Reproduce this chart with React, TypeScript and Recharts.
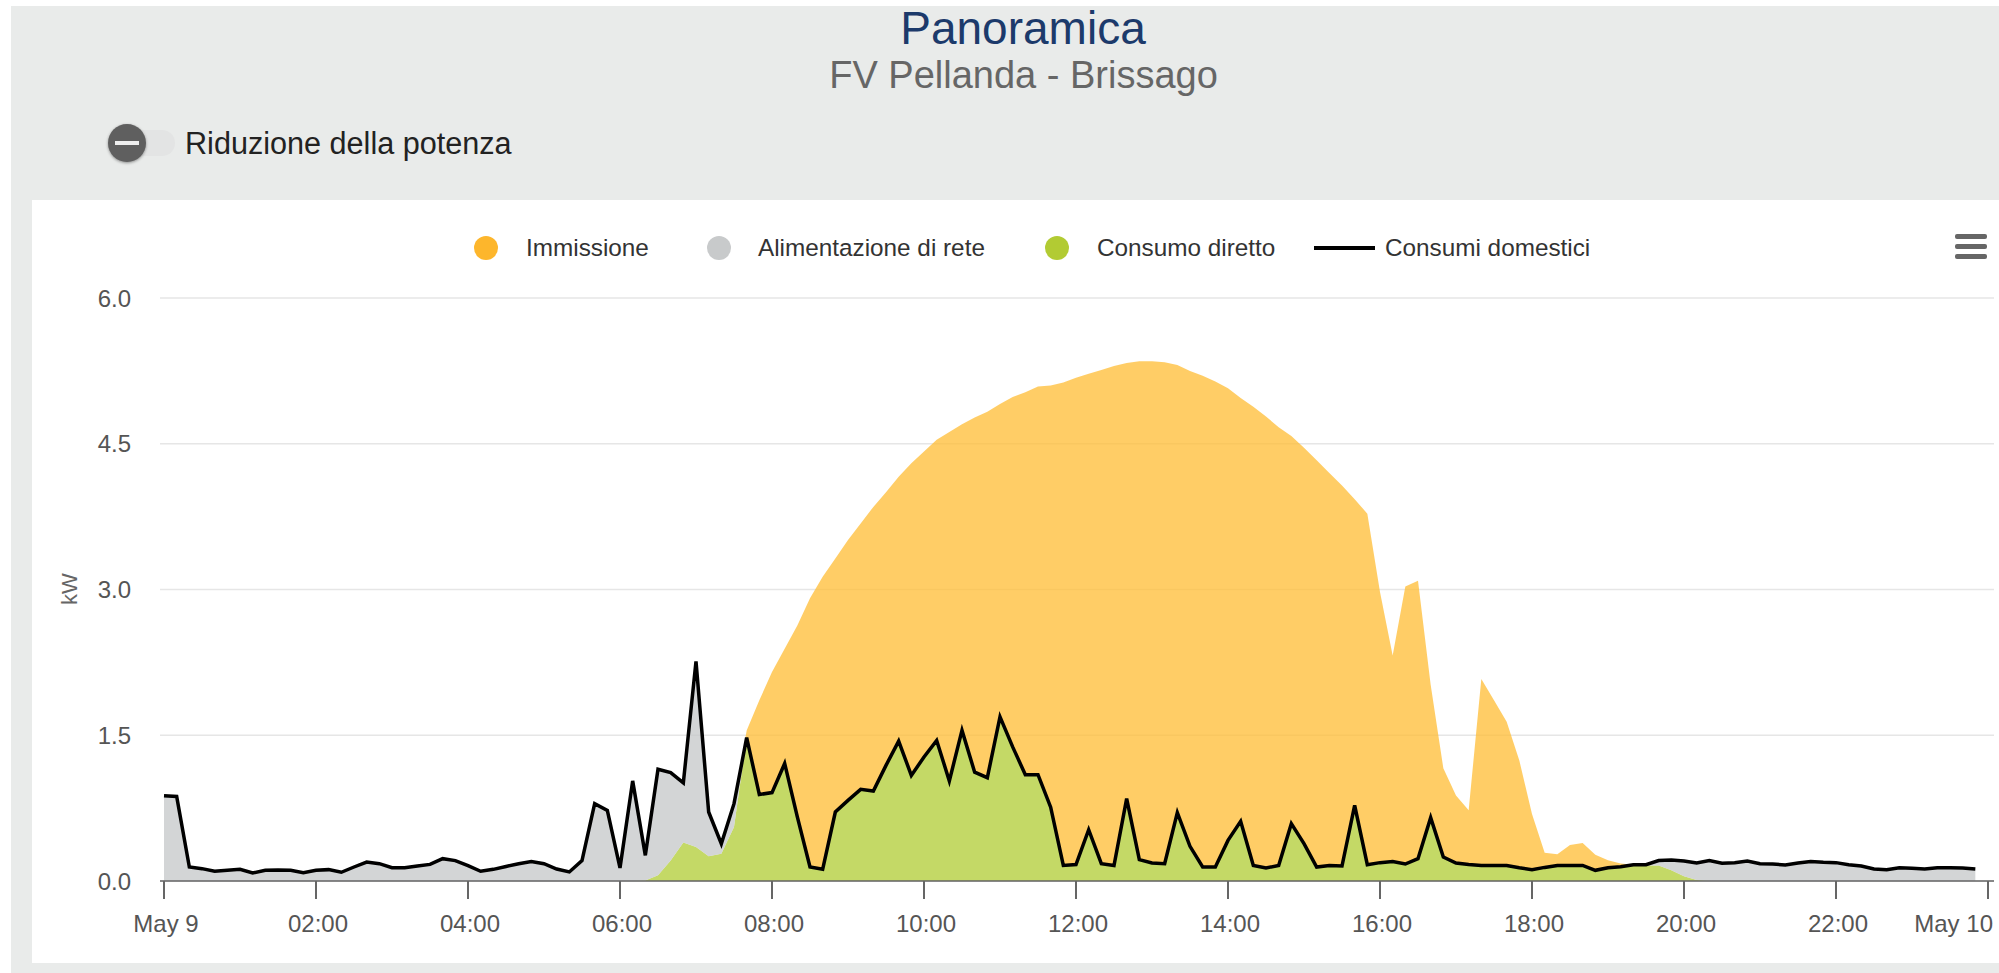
import { Area, CartesianGrid, ComposedChart, Line, XAxis, YAxis } from 'recharts';

const tickMinutes = [0, 120, 240, 360, 480, 600, 720, 840, 960, 1080, 1200, 1320, 1440];
const tickLabels = ['May 9', '02:00', '04:00', '06:00', '08:00', '10:00', '12:00', '14:00', '16:00', '18:00', '20:00', '22:00', 'May 10'];
const yTicks = [0, 1.5, 3, 4.5, 6];

// one value every 10 minutes, from 00:00 to 23:50
const consumiDomestici = [
  0.878, 0.87, 0.144, 0.127, 0.1, 0.11, 0.12, 0.082, 0.11, 0.113, 0.11, 0.086,
  0.11, 0.117, 0.09, 0.144, 0.195, 0.178, 0.137, 0.137, 0.154, 0.171, 0.23, 0.21,
  0.158, 0.1, 0.12, 0.15, 0.178, 0.2, 0.178, 0.123, 0.093, 0.21, 0.796, 0.727,
  0.134, 1.03, 0.264, 1.15, 1.115, 1.01, 2.26, 0.71, 0.384, 0.796, 1.475, 0.89,
  0.91, 1.21, 0.66, 0.144, 0.12, 0.71, 0.83, 0.943, 0.926, 1.19, 1.44, 1.087,
  1.276, 1.447, 1.03, 1.55, 1.12, 1.063, 1.69, 1.38, 1.094, 1.094, 0.76, 0.16,
  0.17, 0.528, 0.178, 0.16, 0.847, 0.22, 0.185, 0.178, 0.703, 0.357, 0.144, 0.144,
  0.418, 0.614, 0.16, 0.134, 0.16, 0.59, 0.384, 0.144, 0.16, 0.154, 0.779, 0.168,
  0.189, 0.2, 0.175, 0.23, 0.652, 0.247, 0.185, 0.171, 0.16, 0.16, 0.16, 0.137,
  0.117, 0.14, 0.16, 0.16, 0.16, 0.11, 0.137, 0.147, 0.168, 0.168, 0.21, 0.216,
  0.206, 0.185, 0.21, 0.182, 0.189, 0.206, 0.178, 0.175, 0.165, 0.185, 0.2, 0.192,
  0.189, 0.168, 0.154, 0.123, 0.117, 0.137, 0.13, 0.123, 0.137, 0.137, 0.134, 0.123,
];

const consumoDiretto = [
  0, 0, 0, 0, 0, 0, 0, 0, 0, 0, 0, 0,
  0, 0, 0, 0, 0, 0, 0, 0, 0, 0, 0, 0,
  0, 0, 0, 0, 0, 0, 0, 0, 0, 0, 0, 0,
  0, 0, 0.005, 0.06, 0.21, 0.395, 0.35, 0.254, 0.28, 0.556, 1.475, 0.89,
  0.91, 1.21, 0.66, 0.144, 0.12, 0.71, 0.83, 0.943, 0.926, 1.19, 1.44, 1.087,
  1.276, 1.447, 1.03, 1.55, 1.12, 1.063, 1.69, 1.38, 1.094, 1.094, 0.76, 0.16,
  0.17, 0.528, 0.178, 0.16, 0.847, 0.22, 0.185, 0.178, 0.703, 0.357, 0.144, 0.144,
  0.418, 0.614, 0.16, 0.134, 0.16, 0.59, 0.384, 0.144, 0.16, 0.154, 0.779, 0.168,
  0.189, 0.2, 0.175, 0.23, 0.652, 0.247, 0.185, 0.171, 0.16, 0.16, 0.16, 0.137,
  0.117, 0.14, 0.16, 0.16, 0.16, 0.11, 0.137, 0.147, 0.165, 0.16, 0.16, 0.11,
  0.05, 0.01, 0, 0, 0, 0, 0, 0, 0, 0, 0, 0,
  0, 0, 0, 0, 0, 0, 0, 0, 0, 0, 0, 0,
];

const alimentazioneRete = [
  0.878, 0.87, 0.144, 0.127, 0.1, 0.11, 0.12, 0.082, 0.11, 0.113, 0.11, 0.086,
  0.11, 0.117, 0.09, 0.144, 0.195, 0.178, 0.137, 0.137, 0.154, 0.171, 0.23, 0.21,
  0.158, 0.1, 0.12, 0.15, 0.178, 0.2, 0.178, 0.123, 0.093, 0.21, 0.796, 0.727,
  0.134, 1.03, 0.259, 1.09, 0.905, 0.615, 1.91, 0.456, 0.104, 0.24, 0, 0,
  0, 0, 0, 0, 0, 0, 0, 0, 0, 0, 0, 0,
  0, 0, 0, 0, 0, 0, 0, 0, 0, 0, 0, 0,
  0, 0, 0, 0, 0, 0, 0, 0, 0, 0, 0, 0,
  0, 0, 0, 0, 0, 0, 0, 0, 0, 0, 0, 0,
  0, 0, 0, 0, 0, 0, 0, 0, 0, 0, 0, 0,
  0, 0, 0, 0, 0, 0, 0, 0, 0.003, 0.008, 0.05, 0.106,
  0.156, 0.175, 0.21, 0.182, 0.189, 0.206, 0.178, 0.175, 0.165, 0.185, 0.2, 0.192,
  0.189, 0.168, 0.154, 0.123, 0.117, 0.137, 0.13, 0.123, 0.137, 0.137, 0.134, 0.123,
];

const immissione = [
  0, 0, 0, 0, 0, 0, 0, 0, 0, 0, 0, 0,
  0, 0, 0, 0, 0, 0, 0, 0, 0, 0, 0, 0,
  0, 0, 0, 0, 0, 0, 0, 0, 0, 0, 0, 0,
  0, 0, 0, 0, 0, 0, 0, 0, 0, 0, 0.075, 0.97,
  1.24, 1.18, 1.97, 2.766, 3.01, 2.61, 2.68, 2.737, 2.924, 2.81, 2.72, 3.213,
  3.144, 3.093, 3.59, 3.15, 3.65, 3.767, 3.22, 3.6, 3.936, 3.996, 4.34, 4.97,
  5.01, 4.692, 5.082, 5.14, 4.483, 5.13, 5.165, 5.162, 4.607, 4.893, 5.056, 4.996,
  4.652, 4.356, 4.72, 4.646, 4.51, 3.99, 4.076, 4.186, 4.04, 3.916, 3.151, 3.612,
  2.786, 2.12, 2.855, 2.86, 1.368, 0.913, 0.695, 0.557, 1.92, 1.7, 1.48, 1.103,
  0.573, 0.15, 0.115, 0.21, 0.23, 0.16, 0.076, 0.033, 0, 0, 0, 0,
  0, 0, 0, 0, 0, 0, 0, 0, 0, 0, 0, 0,
  0, 0, 0, 0, 0, 0, 0, 0, 0, 0, 0, 0,
];

const chartData = consumiDomestici.map((value, i) => ({
  minute: i * 10,
  consumi: value,
  diretto: consumoDiretto[i],
  rete: alimentazioneRete[i],
  immissione: immissione[i],
}));

const FONT = '"Liberation Sans", Arial, sans-serif';

const legendDots = [
  { name: 'Immissione', color: '#fdb62c', dotX: 486, textX: 526 },
  { name: 'Alimentazione di rete', color: '#c8cacb', dotX: 719, textX: 758 },
  { name: 'Consumo diretto', color: '#b2cb33', dotX: 1057, textX: 1097 },
];

function XTick({ x, payload }: any) {
  const label = tickLabels[tickMinutes.indexOf(payload.value)];
  // the last label is pushed back inside the plot
  const isLast = payload.value === 1440;
  return (
    <text
      x={isLast ? x + 5 : x + 2}
      y={932}
      textAnchor={isLast ? 'end' : 'middle'}
      fontSize={24}
      fontFamily={FONT}
      fill="#555"
    >
      {label}
    </text>
  );
}

export default function App() {
  const textStyle = { position: 'absolute', fontFamily: FONT, whiteSpace: 'nowrap' } as const;
  return (
    <div style={{ position: 'absolute', left: 0, top: 0, width: 1999, height: 973, background: '#fff', overflow: 'hidden' }}>
      <div style={{ position: 'absolute', left: 11, top: 6, width: 1988, height: 967, background: '#e9ebea' }} />
      <div style={{ position: 'absolute', left: 32, top: 200, width: 1967, height: 763, background: '#fff' }} />

      <div style={{ ...textStyle, left: 0, width: 2046, textAlign: 'center', top: 2, fontSize: 46, lineHeight: '52px', color: '#1c3a6b' }}>
        Panoramica
      </div>
      <div style={{ ...textStyle, left: 0, width: 2047, textAlign: 'center', top: 53, fontSize: 38, lineHeight: '44px', color: '#666' }}>
        FV Pellanda - Brissago
      </div>

      <div style={{ position: 'absolute', left: 127, top: 130, width: 48, height: 26, borderRadius: 13, background: '#e3e4e4' }} />
      <div style={{ position: 'absolute', left: 108, top: 124, width: 38, height: 38, borderRadius: 19, background: '#5f5f5f', boxShadow: '0 1px 3px rgba(0,0,0,0.4)' }} />
      <div style={{ position: 'absolute', left: 115, top: 141, width: 24, height: 4, background: '#eee' }} />
      <div style={{ ...textStyle, left: 185, top: 125, fontSize: 30.6, lineHeight: '36px', color: '#222' }}>
        Riduzione della potenza
      </div>

      <div style={{ position: 'absolute', left: 0, top: 0 }}>
        <ComposedChart
          width={1999}
          height={973}
          data={chartData}
          margin={{ top: 298, right: 5, bottom: 32, left: 100 }}
        >
          <CartesianGrid vertical={false} stroke="#e6e6e6" strokeWidth={1.5} />
          <XAxis
            dataKey="minute"
            type="number"
            domain={[-3.16, 1444.74]}
            ticks={tickMinutes}
            interval={0}
            height={60}
            tick={<XTick />}
            tickSize={18}
            tickLine={{ stroke: '#666', strokeWidth: 2 }}
            axisLine={{ stroke: '#666', strokeWidth: 1.5 }}
          />
          <YAxis
            domain={[0, 6]}
            ticks={yTicks}
            width={60}
            axisLine={false}
            tickLine={false}
            tickSize={0}
            tickMargin={29}
            tickFormatter={(v: number) => v.toFixed(1)}
            tick={{ fontSize: 24, fontFamily: FONT, fill: '#555' }}
          />
          <Area dataKey="diretto" stackId="power" type="linear" stroke="none" fill="#b0cc33" fillOpacity={0.75} isAnimationActive={false} />
          <Area dataKey="rete" stackId="power" type="linear" stroke="none" fill="#c4c7c8" fillOpacity={0.75} isAnimationActive={false} />
          <Area dataKey="immissione" stackId="power" type="linear" stroke="none" fill="#ffbc33" fillOpacity={0.75} isAnimationActive={false} />
          <Line dataKey="consumi" type="linear" stroke="#000" strokeWidth={3.5} dot={false} isAnimationActive={false} />
        </ComposedChart>
      </div>

      <div style={{ ...textStyle, left: 70, top: 589, fontSize: 22, lineHeight: '24px', color: '#666', transform: 'translate(-50%, -50%) rotate(-90deg)' }}>
        kW
      </div>

      {legendDots.map((item) => (
        <div key={item.name}>
          <div style={{ position: 'absolute', left: item.dotX - 12, top: 236, width: 24, height: 24, borderRadius: 12, background: item.color }} />
          <div style={{ ...textStyle, left: item.textX, top: 234, fontSize: 24.3, lineHeight: '28px', color: '#333' }}>{item.name}</div>
        </div>
      ))}
      <div style={{ position: 'absolute', left: 1314, top: 246, width: 61, height: 4, background: '#000' }} />
      <div style={{ ...textStyle, left: 1385, top: 234, fontSize: 24.3, lineHeight: '28px', color: '#333' }}>Consumi domestici</div>

      {[234, 244, 254].map((top) => (
        <div key={top} style={{ position: 'absolute', left: 1955, top, width: 32, height: 5, borderRadius: 2, background: '#666' }} />
      ))}
    </div>
  );
}
